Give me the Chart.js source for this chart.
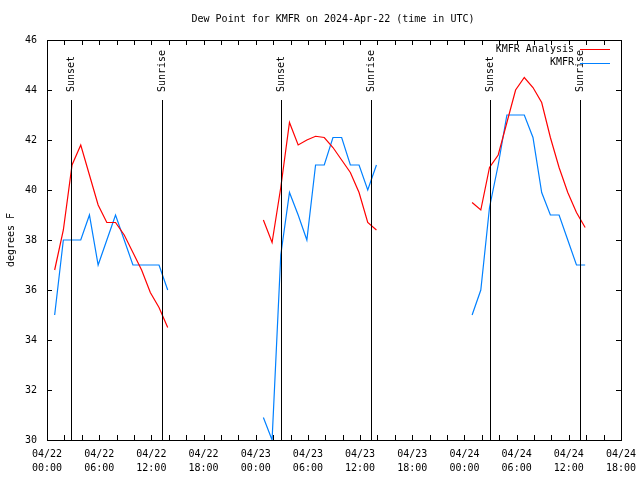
<!DOCTYPE html>
<html>
<head>
<meta charset="utf-8">
<script src="https://cdn.jsdelivr.net/npm/chart.js@4/dist/chart.umd.min.js"></script>
<style>
  html, body { margin: 0; padding: 0; background: #fff; }
  #wrap { width: 640px; height: 480px; }
</style>
</head>
<body>
<div id="wrap"><canvas id="dewChart" width="640" height="480"></canvas></div>
<script>
// hours since 04/22 00:00 UTC, null = gap between runs
const hours = [
  0.88, 1.88, 2.88, 3.88, 4.88, 5.88, 6.88, 7.88, 8.88, 9.88, 10.88, 11.88, 12.88, 13.88,
  20,
  24.88, 25.88, 26.88, 27.88, 28.88, 29.88, 30.88, 31.88, 32.88, 33.88, 34.88, 35.88, 36.88, 37.88,
  44,
  48.88, 49.88, 50.88, 51.88, 52.88, 53.88, 54.88, 55.88, 56.88, 57.88, 58.88, 59.88, 60.88, 61.88
];
const analysis = [
  36.8, 38.4, 41.0, 41.8, 40.6, 39.4, 38.7, 38.7, 38.2, 37.5, 36.8, 35.9, 35.3, 34.5,
  null,
  38.8, 37.9, 40.1, 42.7, 41.8, 42.0, 42.15, 42.1, 41.7, 41.2, 40.7, 39.9, 38.7, 38.4,
  null,
  39.5, 39.2, 40.9, 41.4, 42.7, 44.0, 44.5, 44.1, 43.5, 42.1, 40.9, 39.9, 39.1, 38.5
];
const observed = [
  35.0, 38.0, 38.0, 38.0, 39.0, 37.0, 38.0, 39.0, 38.0, 37.0, 37.0, 37.0, 37.0, 36.0,
  null,
  30.9, 30.0, 37.4, 39.9, 39.0, 38.0, 41.0, 41.0, 42.1, 42.1, 41.0, 41.0, 40.0, 41.0,
  null,
  35.0, 36.0, 39.3, 41.0, 43.0, 43.0, 43.0, 42.1, 39.9, 39.0, 39.0, 38.0, 37.0, 37.0
];
const sunsets = [2.8, 26.9, 50.95];
const sunrises = [13.25, 37.3, 61.3];
const dayLabels = ['04/22', '04/23', '04/24'];

const FONT = '"DejaVu Sans Mono", monospace';

function pts(vals) {
  return hours.map((h, i) => ({ x: h, y: vals[i] }));
}

// frame, inward ticks, sun lines, title, legend
const decor = {
  id: 'decor',
  afterDatasetsDraw(chart) {
    const ctx = chart.ctx;
    const a = chart.chartArea;
    const xs = chart.scales.x, ys = chart.scales.y;
    ctx.save();
    ctx.strokeStyle = '#000';
    ctx.lineWidth = 1;

    // sunset / sunrise markers
    const markTop = ys.getPixelForValue(43.6);
    ctx.font = '10px ' + FONT;
    ctx.fillStyle = '#000';
    function marker(h, txt) {
      const px = Math.round(xs.getPixelForValue(h)) + 0.5;
      ctx.beginPath();
      ctx.moveTo(px, a.bottom);
      ctx.lineTo(px, markTop);
      ctx.stroke();
      ctx.save();
      ctx.translate(px, markTop - 8);
      ctx.rotate(-Math.PI / 2);
      ctx.textAlign = 'left';
      ctx.textBaseline = 'middle';
      ctx.fillText(txt, 0, 0);
      ctx.restore();
    }
    sunsets.forEach(h => marker(h, 'Sunset'));
    sunrises.forEach(h => marker(h, 'Sunrise'));

    // border
    ctx.strokeRect(Math.round(a.left) + 0.5, Math.round(a.top) + 0.5,
      Math.round(a.right - a.left), Math.round(a.bottom - a.top));

    // ticks
    ctx.beginPath();
    for (let h = 0; h <= 66; h += 2) {
      const px = Math.round(xs.getPixelForValue(h)) + 0.5;
      ctx.moveTo(px, a.bottom); ctx.lineTo(px, a.bottom - 5);
      ctx.moveTo(px, a.top); ctx.lineTo(px, a.top + 5);
    }
    for (let v = 30; v <= 46; v += 2) {
      const py = Math.round(ys.getPixelForValue(v)) + 0.5;
      ctx.moveTo(a.left, py); ctx.lineTo(a.left + 5, py);
      ctx.moveTo(a.right, py); ctx.lineTo(a.right - 5, py);
    }
    ctx.stroke();

    // title
    ctx.textAlign = 'center';
    ctx.textBaseline = 'middle';
    ctx.fillText('Dew Point for KMFR on 2024-Apr-22 (time in UTC)', 333, 19);

    // y axis title
    ctx.save();
    ctx.translate(11, 240);
    ctx.rotate(-Math.PI / 2);
    ctx.fillText('degrees F', 0, 0);
    ctx.restore();

    // legend
    ctx.textAlign = 'right';
    chart.data.datasets.forEach((ds, i) => {
      const y = 49 + i * 13.5;
      ctx.fillStyle = '#000';
      ctx.fillText(ds.label, 574, y);
      ctx.strokeStyle = ds.borderColor;
      ctx.beginPath();
      ctx.moveTo(580, Math.round(y) + 0.5);
      ctx.lineTo(610, Math.round(y) + 0.5);
      ctx.stroke();
    });
    ctx.restore();
  }
};

new Chart(document.getElementById('dewChart'), {
  type: 'line',
  data: {
    datasets: [
      {
        label: 'KMFR Analysis',
        data: pts(analysis),
        borderColor: '#ff0000',
        borderWidth: 1.2,
        pointRadius: 0,
        tension: 0,
        spanGaps: false
      },
      {
        label: 'KMFR',
        data: pts(observed),
        borderColor: '#0080ff',
        borderWidth: 1.2,
        pointRadius: 0,
        tension: 0,
        spanGaps: false
      }
    ]
  },
  options: {
    responsive: false,
    animation: false,
    layout: { padding: { left: 0, right: 19, top: 40, bottom: 0 } },
    plugins: {
      legend: { display: false },
      title: { display: false },
      tooltip: { enabled: false }
    },
    scales: {
      x: {
        type: 'linear',
        min: 0,
        max: 66,
        grid: { display: false, drawTicks: false },
        border: { display: false },
        afterFit(scale) {
          scale.height = 40;
          scale.paddingLeft = 0;
          scale.paddingRight = 0;
        },
        ticks: {
          stepSize: 6,
          maxRotation: 0,
          autoSkip: false,
          padding: 8,
          color: '#000',
          font: { family: FONT, size: 10, lineHeight: 1.35 },
          callback: v => {
            const d = Math.floor(v / 24);
            const hh = String(v % 24).padStart(2, '0');
            return [dayLabels[d], hh + ':00'];
          }
        }
      },
      y: {
        min: 30,
        max: 46,
        grid: { display: false, drawTicks: false },
        border: { display: false },
        afterFit(scale) {
          scale.width = 47;
          scale.paddingTop = 0;
          scale.paddingBottom = 0;
        },
        ticks: {
          stepSize: 2,
          padding: 10,
          color: '#000',
          font: { family: FONT, size: 10 }
        }
      }
    }
  },
  plugins: [decor]
});
</script>
</body>
</html>
